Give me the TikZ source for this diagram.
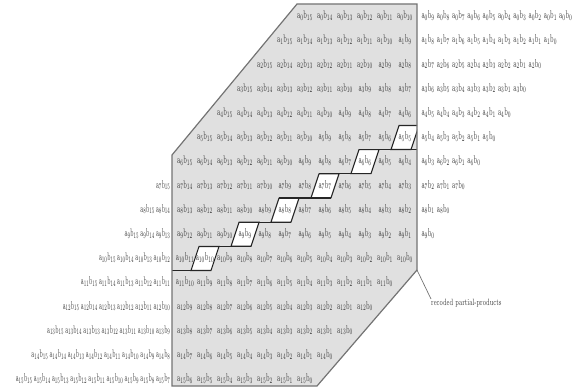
\documentclass[tikz,border=0pt]{standalone}
\usepackage{graphicx}
\definecolor{bgray}{gray}{0.88}
\definecolor{edgegray}{gray}{0.45}
\definecolor{txtgray}{gray}{0.22}
\tikzset{
  term/.style={inner xsep=0pt, inner ysep=0pt, text height=7.5pt, text depth=3pt,
    font=\fontsize{8}{9}\selectfont, text=txtgray},
  lterm/.style={term, inner xsep=0.5pt},
  region/.style={draw=edgegray, line width=1.2pt, line join=miter},
  stair/.style={draw=black!85, line width=1.2pt},
  cellbox/.style={fill=white, draw=black!85, line width=1.1pt},
  lbl/.style={font=\fontsize{7}{8}\selectfont, inner sep=0pt, text=txtgray},
  leader/.style={draw=edgegray, line width=0.7pt}
}
\newcommand{\abterm}[2]{\scalebox{0.75}[1.4]{$\mathrm{a}_{#1}\mathrm{b}_{#2}$}}
\newcommand{\abtermL}[2]{\scalebox{0.68}[1.4]{$\mathrm{a}_{#1}\mathrm{b}_{#2}$}}
\begin{document}
\begin{tikzpicture}[x=1pt,y=-1pt]
\useasboundingbox (0,0) rectangle (575,387);
\coordinate (g1) at (297,4);
\coordinate (g2) at (417,4);
\coordinate (g3) at (417,270);
\coordinate (g4) at (317,386);
\coordinate (g5) at (172,386);
\coordinate (g6) at (172,155);
\fill[bgray] (g1) -- (g2) -- (g3) -- (g4) -- (g5) -- (g6) -- cycle;
% white diagonal cells
\begin{scope}
\clip (g1) -- (g2) -- (g3) -- (g4) -- (g5) -- (g6) -- cycle;
\foreach \i in {5,...,10}{
  \pgfmathsetmacro\xc{305+(15-2*\i)*20}
  \pgfmathsetmacro\yc{16.5+24.2*\i}
  \filldraw[cellbox] ({\xc-6},{\yc-12}) -- ({\xc+14},{\yc-12}) -- ({\xc+6},{\yc+12}) -- ({\xc-14},{\yc+12}) -- cycle;
}
\end{scope}
% terms in the recoded region
\foreach \i in {0,...,15}{
  \pgfmathtruncatemacro\wmax{min(\i+15,21)}
  \pgfmathtruncatemacro\wmin{max(10,\i)}
  \foreach \w in {\wmin,...,\wmax}{
    \pgfmathtruncatemacro\j{\w-\i}
    \node[term] (t-\i-\j) at ({305+(15-\w)*20},{16.5+24.2*\i}) {\abterm{\i}{\j}};
  }
}
% right triangle
\foreach \i in {0,...,9}{
  \pgfmathtruncatemacro\jmax{9-\i}
  \foreach \j in {0,...,\jmax}{
    \node[term] (r-\i-\j) at ({428+15.3*(\jmax-\j)},{16.5+24.2*\i}) {\abterm{\i}{\j}};
  }
}
% left triangle
\foreach \i in {7,...,15}{
  \pgfmathtruncatemacro\jst{22-\i}
  \node[lterm,anchor=east] (l-\i-\jst) at (171,{16.5+24.2*\i}) {\abtermL{\i}{\jst}};
  \ifnum\i>7
    \pgfmathtruncatemacro\jnext{\jst+1}
    \foreach \j in {\jnext,...,15}{
      \pgfmathtruncatemacro\jp{\j-1}
      \node[lterm,anchor=east] (l-\i-\j) at (l-\i-\jp.west) {\abtermL{\i}{\j}};
    }
  \fi
}
% staircase
\foreach \i in {5,...,10}{
  \pgfmathsetmacro\xc{305+(15-2*\i)*20}
  \pgfmathsetmacro\yc{16.5+24.2*\i}
  \ifnum\i<7 \def\xr{417}\else\pgfmathsetmacro\xr{\xc+46}\fi
  \draw[stair] ({\xc-6},{\yc-12}) -- (\xr,{\yc-12});
}
\pgfmathsetmacro\yb{16.5+24.2*10+12}
\draw[stair] (172,\yb) -- (211,\yb);
\draw[region] (g1) -- (g2) -- (g3) -- (g4) -- (g5) -- (g6) -- cycle;
\node[lbl, anchor=north west] (lab) at (431,299) {\scalebox{0.82}[1.3]{recoded partial-products}};
\draw[leader] (g3) -- (lab.north west);
\end{tikzpicture}
\end{document}
